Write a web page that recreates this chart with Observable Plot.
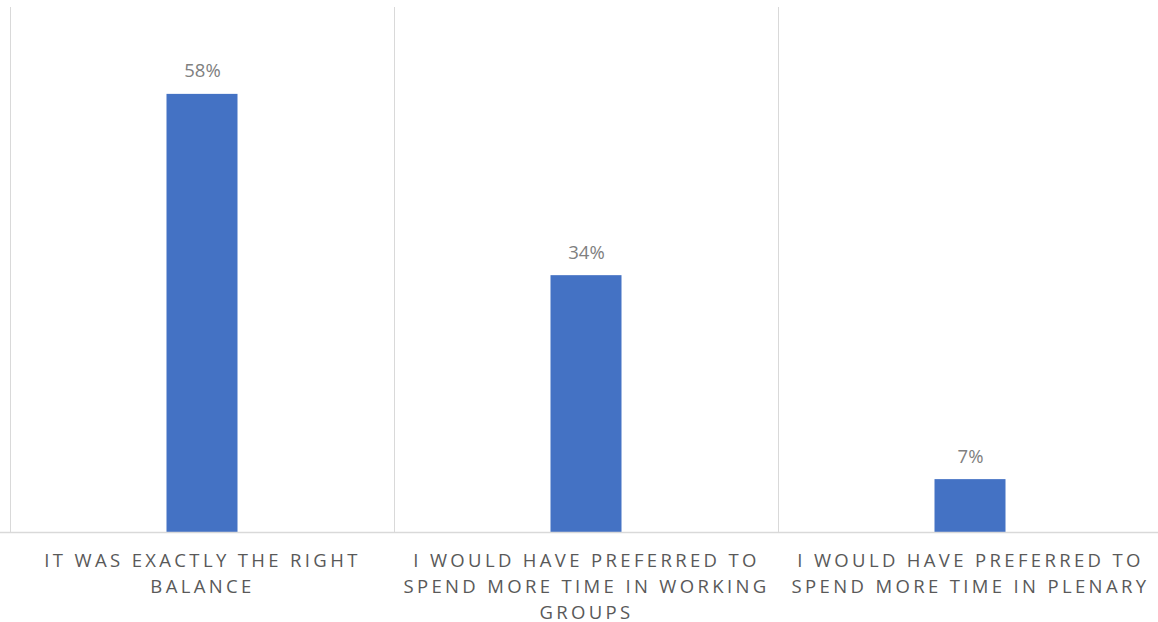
<!DOCTYPE html>
<html>
<head>
<meta charset="utf-8">
<script src="https://cdn.jsdelivr.net/npm/d3@7"></script>
<script src="https://cdn.jsdelivr.net/npm/@observablehq/plot@0.6"></script>
<style>
  html, body { margin: 0; padding: 0; background: #fff; overflow: hidden; }
  #chart svg { display: block; overflow: visible; }
  #chart .cat-label text { letter-spacing: 3.35px; }
</style>
</head>
<body>
<div id="chart"></div>
<script>
const categories = [
  "IT WAS EXACTLY THE RIGHT\nBALANCE",
  "I WOULD HAVE PREFERRED TO\nSPEND MORE TIME IN WORKING\nGROUPS",
  "I WOULD HAVE PREFERRED TO\nSPEND MORE TIME IN PLENARY"
];
const values = [58, 34, 7];
const yMax = 69.5;

const data = categories.map((c, i) => ({category: c, value: values[i]}));

const W = 1158, H = 622;
const xRange = [10, 1162];
const bw = (xRange[1] - xRange[0]) / categories.length;
const barW = 71;
const inset = (bw - barW) / 2;

const chart = Plot.plot({
  width: W,
  height: H,
  marginTop: 0, marginBottom: 0, marginLeft: 0, marginRight: 0,
  style: {fontFamily: "'Open Sans', sans-serif", background: "#fff"},
  x: {type: "band", domain: categories, range: xRange, padding: 0, axis: null},
  y: {type: "linear", domain: [0, yMax], range: [532, 7], axis: null},
  marks: [
    Plot.ruleX(categories, {x: d => d, y1: 0, y2: yMax, dx: -bw / 2, stroke: "#d9d9d9", strokeWidth: 1}),
    Plot.ruleX([categories[categories.length - 1]], {x: d => d, y1: 0, y2: yMax, dx: bw / 2, stroke: "#d9d9d9", strokeWidth: 1}),
    Plot.barY(data, {x: "category", y: "value", fill: "#4472C4", insetLeft: inset, insetRight: inset}),
    Plot.ruleY([0], {stroke: "#d9d9d9", strokeWidth: 1.5}),
    Plot.text(data, {x: "category", y: "value", text: d => d.value + "%", lineAnchor: "bottom", dy: -17, fill: "#808080", fontSize: 18.5}),
    Plot.text(data, {x: "category", y: 0, text: "category", lineAnchor: "top", dy: 16, lineHeight: 1.4, fill: "#595959", fontSize: 18.5, textAnchor: "middle", className: "cat-label"})
  ]
});
document.getElementById("chart").appendChild(chart);
</script>
</body>
</html>
